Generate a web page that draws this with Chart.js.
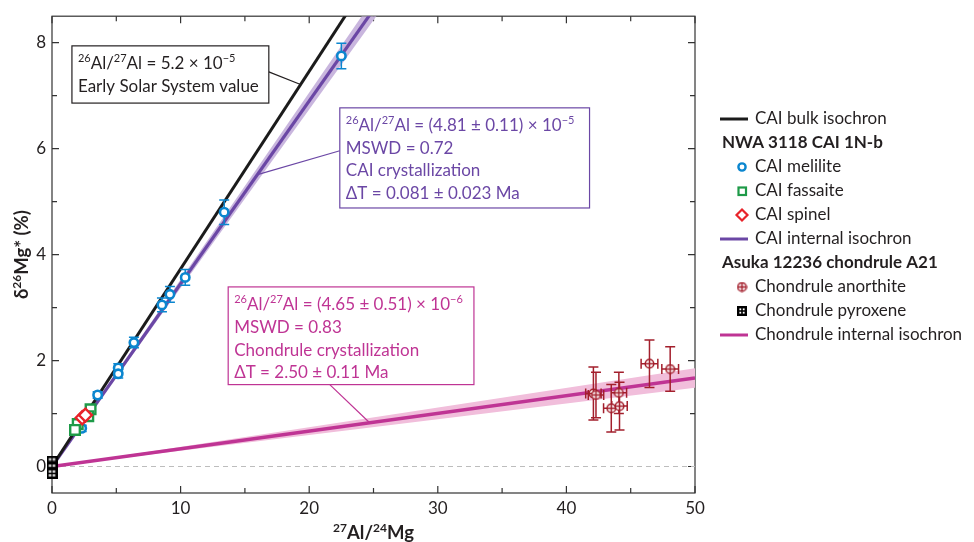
<!DOCTYPE html>
<html>
<head>
<meta charset="utf-8">
<script src="https://cdn.jsdelivr.net/npm/chart.js@4.4.1/dist/chart.umd.min.js"></script>
<style>
  html, body { margin: 0; padding: 0; background: #fff; }
  #wrap { width: 974px; height: 542px; }
</style>
</head>
<body>
<div id="wrap"><canvas id="isoChart" width="974" height="542"></canvas></div>
<script>
const FONT = 'Lato, "Open Sans", sans-serif';

// isochron slopes (d26Mg* per unit 27Al/24Mg) : low, best, high
const bulkSlope = 0.373;                 // 26Al/27Al = 5.2e-5
const caiSlope = [0.337, 0.345, 0.353];  // (4.81 +- 0.11)e-5
const chondSlope = [0.0297, 0.0334, 0.0371]; // (4.65 +- 0.51)e-6
const isoX = [0, 50];

// NWA 3118 CAI 1N-b
const melX = [22.5, 13.39, 10.36, 9.17, 8.55, 6.37, 5.15, 5.15, 3.55, 2.31];
const melY = [7.75, 4.80, 3.57, 3.25, 3.05, 2.34, 1.86, 1.75, 1.35, 0.72];
const melErr = [0.24, 0.23, 0.15, 0.15, 0.13, 0.10, 0.08, 0.08, 0.06, 0.06];
const fasX = [3.0, 2.82, 2.0, 1.79];
const fasY = [1.08, 0.95, 0.80, 0.69];
const spiX = [2.35, 2.6];
const spiY = [0.92, 0.97];

// Asuka 12236 chondrule A21
const anoX = [42.1, 42.3, 43.49, 44.08, 44.13, 46.46, 48.07];
const anoY = [1.38, 1.35, 1.10, 1.39, 1.14, 1.94, 1.84];
const anoYErr = [0.50, 0.43, 0.45, 0.39, 0.45, 0.45, 0.42];
const anoXErr = [0.6, 0.6, 0.6, 0.6, 0.6, 0.65, 0.65];
const pyrX = [0.0, 0.0, 0.0];
const pyrY = [0.1, -0.02, -0.13];

// axes
const xTickVals = [0, 5, 10, 15, 20, 25, 30, 35, 40, 45, 50];
const yTickVals = [0, 1, 2, 3, 4, 5, 6, 7, 8];

const legendRows = [
  ['line', 'CAI bulk isochron'],
  ['head', 'NWA 3118 CAI 1N-b'],
  ['mel', 'CAI melilite'],
  ['fas', 'CAI fassaite'],
  ['spi', 'CAI spinel'],
  ['cai', 'CAI internal isochron'],
  ['head', 'Asuka 12236 chondrule A21'],
  ['ano', 'Chondrule anorthite'],
  ['pyr', 'Chondrule pyroxene'],
  ['chd', 'Chondrule internal isochron']
];

const C = {
  blue: '#0b86cf', green: '#1e9a48', red: '#e8232a', dred: '#a31f2c',
  black: '#1b1b1b', purple: '#6b47a5', purpleBand: '#c9b6de',
  pink: '#bf3494', pinkBand: '#f1bedb', text: '#231f20'
};

const pts = (xs, ys) => xs.map((x, i) => ({ x: x, y: ys[i] }));
const lineOf = m => isoX.map(x => ({ x: x, y: m * x }));

function makeMarker(kind, size, color) {
  const c = document.createElement('canvas');
  c.width = c.height = size;
  const g = c.getContext('2d');
  const m = size / 2;
  g.strokeStyle = color;
  g.fillStyle = '#fff';
  if (kind === 'oplus') {
    g.lineWidth = 1.5;
    g.beginPath(); g.arc(m, m, m - 1.2, 0, 2 * Math.PI); g.fill(); g.stroke();
    g.beginPath(); g.moveTo(m, 1.2); g.lineTo(m, size - 1.2); g.moveTo(1.2, m); g.lineTo(size - 1.2, m); g.stroke();
  } else {
    g.lineWidth = 2.4;
    g.fillRect(1, 1, size - 2, size - 2);
    g.strokeRect(1.2, 1.2, size - 2.4, size - 2.4);
    g.lineWidth = 1.6;
    g.beginPath(); g.moveTo(m, 1); g.lineTo(m, size - 1); g.moveTo(1, m); g.lineTo(size - 1, m); g.stroke();
  }
  return c;
}
const oplus = makeMarker('oplus', 11, C.dred);
const boxplus = makeMarker('boxplus', 11, '#000');
const boxplusSmall = makeMarker('boxplus', 10, '#000');

function drawRich(ctx, str, x, y, size, weight, color, align) {
  const parts = str.split(/\^\{([^}]*)\}/);
  const base = weight + ' ' + size + 'px ' + FONT;
  const sup = weight + ' ' + Math.round(size * 0.66) + 'px ' + FONT;
  let w = 0;
  parts.forEach((p, i) => { ctx.font = i % 2 ? sup : base; w += ctx.measureText(p).width; });
  let cx = align === 'center' ? x - w / 2 : x;
  ctx.fillStyle = color;
  ctx.textAlign = 'left';
  ctx.textBaseline = 'alphabetic';
  parts.forEach((p, i) => {
    ctx.font = i % 2 ? sup : base;
    ctx.fillText(p, cx, i % 2 ? y - size * 0.4 : y);
    cx += ctx.measureText(p).width;
  });
}

// annotation boxes, in data units: [left, top, right, bottom], leader from -> to
const notes = [
  { box: [1.55, 7.94, 16.86, 6.86], color: C.text, from: [16.86, 7.45], to: [19.33, 7.21],
    lines: ['^{26}Al/^{27}Al = 5.2 × 10^{−5}', 'Early Solar System value'] },
  { box: [22.38, 6.77, 41.8, 4.88], color: C.purple, from: [22.38, 5.96], to: [15.98, 5.51],
    lines: ['^{26}Al/^{27}Al = (4.81 ± 0.11) × 10^{−5}', 'MSWD = 0.72', 'CAI crystallization', 'ΔT = 0.081 ± 0.023 Ma'] },
  { box: [13.7, 3.39, 32.81, 1.546], color: C.pink, from: [21.6, 1.546], to: [24.7, 0.825],
    lines: ['^{26}Al/^{27}Al = (4.65 ± 0.51) × 10^{−6}', 'MSWD = 0.83', 'Chondrule crystallization', 'ΔT = 2.50 ± 0.11 Ma'] }
];

const figPlugin = {
  id: 'fig',
  beforeDatasetDraw(chart, args) {
    const ds = chart.data.datasets[args.index];
    if (!ds.yErr) return;
    const xs = chart.scales.x, ys = chart.scales.y, ctx = chart.ctx;
    ctx.save();
    ctx.strokeStyle = ds.borderColor;
    ctx.lineWidth = 1.5;
    ctx.beginPath();
    ds.data.forEach((p, i) => {
      const px = xs.getPixelForValue(p.x), py = ys.getPixelForValue(p.y);
      const t = ys.getPixelForValue(p.y + ds.yErr[i]), b = ys.getPixelForValue(p.y - ds.yErr[i]);
      ctx.moveTo(px, t); ctx.lineTo(px, b);
      ctx.moveTo(px - 5, t); ctx.lineTo(px + 5, t);
      ctx.moveTo(px - 5, b); ctx.lineTo(px + 5, b);
      if (ds.xErr) {
        const l = xs.getPixelForValue(p.x - ds.xErr[i]), r = xs.getPixelForValue(p.x + ds.xErr[i]);
        ctx.moveTo(l, py); ctx.lineTo(r, py);
        ctx.moveTo(l, py - 5); ctx.lineTo(l, py + 5);
        ctx.moveTo(r, py - 5); ctx.lineTo(r, py + 5);
      }
    });
    ctx.stroke();
    ctx.restore();
  },
  beforeDatasetsDraw(chart) {
    // axes frame goes under the marks
    const ctx = chart.ctx, a = chart.chartArea;
    const xs = chart.scales.x, ys = chart.scales.y;
    ctx.save();
    ctx.strokeStyle = '#333';
    ctx.lineWidth = 1.2;
    ctx.strokeRect(a.left, a.top, a.right - a.left, a.bottom - a.top);
    ctx.beginPath();
    xs.ticks.forEach(t => {
      const p = xs.getPixelForValue(t.value), len = t.value % 10 === 0 ? 7 : 5;
      ctx.moveTo(p, a.bottom); ctx.lineTo(p, a.bottom - len);
      ctx.moveTo(p, a.top); ctx.lineTo(p, a.top + len);
    });
    ys.ticks.forEach(t => {
      const p = ys.getPixelForValue(t.value), len = t.value % 2 === 0 ? 7 : 5;
      ctx.moveTo(a.left, p); ctx.lineTo(a.left + len, p);
      ctx.moveTo(a.right, p); ctx.lineTo(a.right - len, p);
    });
    ctx.stroke();
    ctx.restore();
  },
  afterDraw(chart) {
    const ctx = chart.ctx, a = chart.chartArea;
    const xs = chart.scales.x, ys = chart.scales.y;
    ctx.save();

    // axis titles
    drawRich(ctx, '^{27}Al/^{24}Mg', (a.left + a.right) / 2, 539, 18.5, 'bold', C.text, 'center');
    ctx.save();
    ctx.translate(22, (a.top + a.bottom) / 2);
    ctx.rotate(-Math.PI / 2);
    drawRich(ctx, 'δ^{26}Mg* (%)', 0, 6, 18.5, 'bold', C.text, 'center');
    ctx.restore();

    // annotation boxes
    notes.forEach(n => {
      const l = xs.getPixelForValue(n.box[0]), t = ys.getPixelForValue(n.box[1]);
      const r = xs.getPixelForValue(n.box[2]), b = ys.getPixelForValue(n.box[3]);
      ctx.strokeStyle = n.color;
      ctx.lineWidth = 1.2;
      ctx.beginPath();
      ctx.moveTo(xs.getPixelForValue(n.from[0]), ys.getPixelForValue(n.from[1]));
      ctx.lineTo(xs.getPixelForValue(n.to[0]), ys.getPixelForValue(n.to[1]));
      ctx.stroke();
      ctx.fillStyle = '#fff';
      ctx.fillRect(l, t, r - l, b - t);
      ctx.strokeRect(l, t, r - l, b - t);
      n.lines.forEach((s, i) => drawRich(ctx, s, l + 6, t + 23 + i * 22.8, 17, 'normal', n.color, 'left'));
    });

    // legend
    const lx = 720, tx = 755;
    legendRows.forEach((row, i) => {
      const y = 119 + i * 24.0;
      const kind = row[0];
      ctx.lineWidth = 2.4;
      if (kind === 'line' || kind === 'cai' || kind === 'chd') {
        ctx.strokeStyle = kind === 'line' ? C.black : kind === 'cai' ? C.purple : C.pink;
        ctx.lineWidth = 3;
        ctx.beginPath(); ctx.moveTo(lx, y); ctx.lineTo(lx + 28, y); ctx.stroke();
      } else if (kind === 'mel') {
        ctx.strokeStyle = C.blue; ctx.fillStyle = '#fff';
        ctx.beginPath(); ctx.arc(742, y, 3.6, 0, 2 * Math.PI); ctx.fill(); ctx.stroke();
      } else if (kind === 'fas') {
        ctx.strokeStyle = C.green; ctx.lineWidth = 2.2;
        ctx.strokeRect(738.5, y - 3.5, 7.5, 7.5);
      } else if (kind === 'spi') {
        ctx.strokeStyle = C.red; ctx.lineWidth = 2.2;
        ctx.beginPath(); ctx.moveTo(742, y - 5.5); ctx.lineTo(747.5, y); ctx.lineTo(742, y + 5.5); ctx.lineTo(736.5, y); ctx.closePath(); ctx.stroke();
      } else if (kind === 'ano') {
        ctx.drawImage(oplus, 742 - 5.5, y - 5.5, 11, 11);
      } else if (kind === 'pyr') {
        ctx.drawImage(boxplusSmall, 742 - 5, y - 5, 10, 10);
      }
      ctx.fillStyle = C.text;
      ctx.textBaseline = 'middle';
      ctx.textAlign = 'left';
      if (kind === 'head') {
        ctx.font = 'bold 17px ' + FONT;
        ctx.fillText(row[1], 722, y);
      } else {
        ctx.font = '17px ' + FONT;
        ctx.fillText(row[1], tx, y);
      }
    });
    ctx.restore();
  }
};

const isoChart = new Chart(document.getElementById('isoChart').getContext('2d'), {
  type: 'scatter',
  data: {
    datasets: [
      { label: 'Chondrule pyroxene', data: pts(pyrX, pyrY), pointStyle: boxplus, pointRadius: 5, clip: false },
      { label: 'CAI spinel', data: pts(spiX, spiY), pointStyle: 'rectRot', pointRadius: 6.5,
        borderColor: C.red, backgroundColor: '#fff', borderWidth: 2.4 },
      { label: 'CAI fassaite', data: pts(fasX, fasY), pointStyle: 'rect', pointRadius: 6.8,
        borderColor: C.green, backgroundColor: '#fff', borderWidth: 2.4 },
      { label: 'CAI melilite', data: pts(melX, melY), yErr: melErr, pointStyle: 'circle', pointRadius: 4.2,
        borderColor: C.blue, backgroundColor: '#fff', borderWidth: 2.6 },
      { label: 'Chondrule anorthite', data: pts(anoX, anoY), yErr: anoYErr, xErr: anoXErr,
        pointStyle: oplus, pointRadius: 5, borderColor: C.dred },
      { label: 'CAI bulk isochron', data: lineOf(bulkSlope), showLine: true, pointRadius: 0,
        borderColor: C.black, borderWidth: 3 },
      { label: 'CAI internal isochron', data: lineOf(caiSlope[1]), showLine: true, pointRadius: 0,
        borderColor: C.purple, borderWidth: 3.2 },
      { label: 'Chondrule internal isochron', data: lineOf(chondSlope[1]), showLine: true, pointRadius: 0,
        borderColor: C.pink, borderWidth: 3.4 },
      { label: 'cai band', data: lineOf(caiSlope[2]), showLine: true, pointRadius: 0, borderWidth: 0,
        fill: '+1', backgroundColor: C.purpleBand },
      { label: 'cai band low', data: lineOf(caiSlope[0]), showLine: true, pointRadius: 0, borderWidth: 0 },
      { label: 'chondrule band', data: lineOf(chondSlope[2]), showLine: true, pointRadius: 0, borderWidth: 0,
        fill: '+1', backgroundColor: C.pinkBand },
      { label: 'chondrule band low', data: lineOf(chondSlope[0]), showLine: true, pointRadius: 0, borderWidth: 0 },
      { label: 'zero', data: isoX.map(x => ({ x: x, y: 0 })), showLine: true, pointRadius: 0,
        borderColor: '#bdbdbd', borderWidth: 1.2, borderDash: [5, 4] }
    ]
  },
  options: {
    responsive: false,
    animation: false,
    events: [],
    layout: { padding: { top: 12, right: 279, left: 0, bottom: 0 } },
    scales: {
      x: {
        type: 'linear', min: 0, max: 50,
        afterBuildTicks: s => { s.ticks = xTickVals.map(v => ({ value: v })); },
        afterFit: s => { s.height = 49; },
        grid: { display: false, drawTicks: false }, border: { display: false },
        ticks: { autoSkip: false, maxRotation: 0, padding: 5, color: C.text,
          font: { family: FONT, size: 17 }, callback: v => (v % 10 === 0 ? v : '') }
      },
      y: {
        type: 'linear', min: -0.5, max: 8.5,
        afterBuildTicks: s => { s.ticks = yTickVals.map(v => ({ value: v })); },
        afterFit: s => { s.width = 52; },
        grid: { display: false, drawTicks: false }, border: { display: false },
        ticks: { autoSkip: false, padding: 6, color: C.text,
          font: { family: FONT, size: 17 }, callback: v => (v % 2 === 0 ? v : '') }
      }
    },
    plugins: { legend: { display: false }, tooltip: { enabled: false } }
  },
  plugins: [figPlugin]
});
</script>
</body>
</html>
